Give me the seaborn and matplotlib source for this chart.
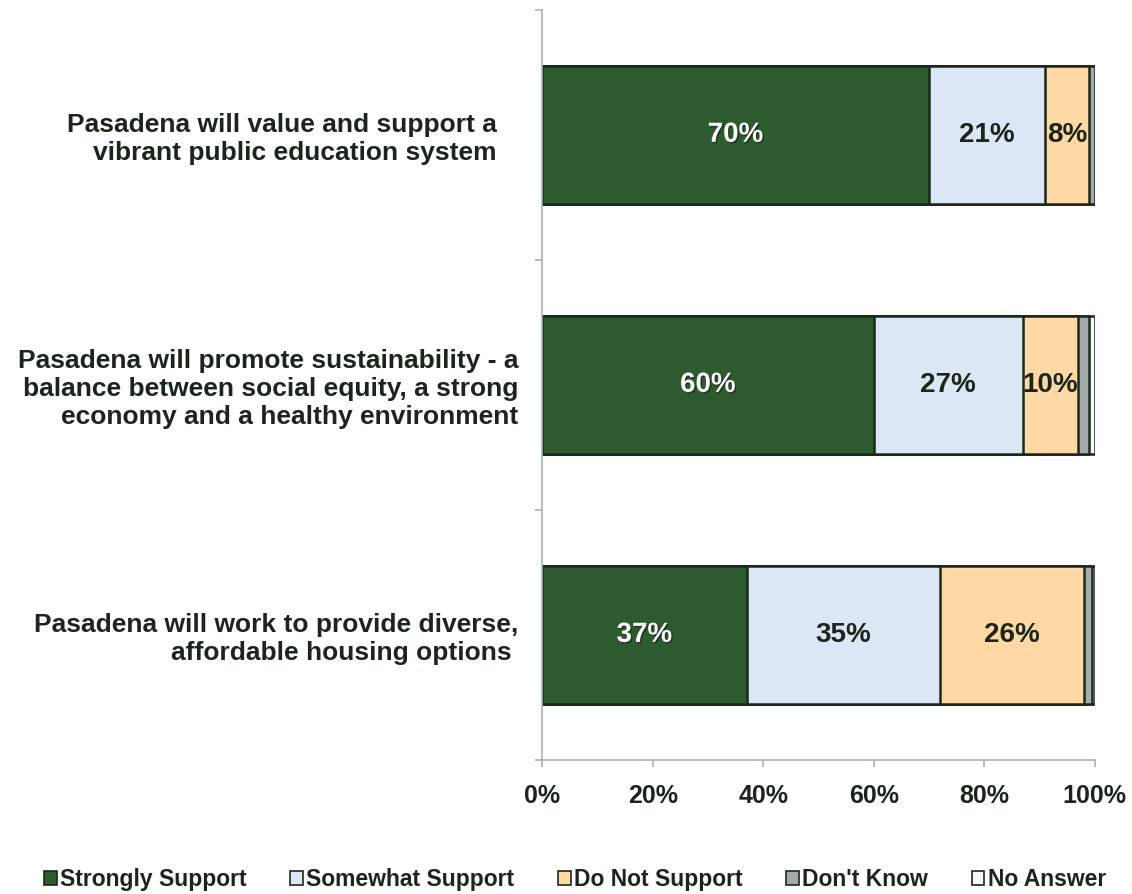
import numpy as np
import pandas as pd
import matplotlib
matplotlib.use("Agg")
import matplotlib.pyplot as plt
import seaborn as sns
from matplotlib.patches import Patch
import matplotlib.patheffects as pe

categories = [
    "Pasadena will value and support a   \nvibrant public education system   ",
    "Pasadena will promote sustainability - a\nbalance between social equity, a strong\neconomy and a healthy environment",
    "Pasadena will work to provide diverse,\naffordable housing options ",
]
series_names = ["Strongly Support", "Somewhat Support", "Do Not Support", "Don't Know", "No Answer"]
strongly = [70, 60, 37]
somewhat = [21, 27, 35]
do_not = [8, 10, 26]
dont_know = [1, 2, 1.5]
no_answer = [0.3, 1, 0.5]
labels_strongly = ["70%", "60%", "37%"]
labels_somewhat = ["21%", "27%", "35%"]
labels_do_not = ["8%", "10%", "26%"]
x_ticks = [0, 20, 40, 60, 80, 100]
x_tick_labels = ["0%", "20%", "40%", "60%", "80%", "100%"]

colors = ["#2e5a30", "#dde6f4", "#ffd8a6", "#a3abab", "#f4f7fc"]
edge = "#1a2a1a"
text_col = "#1b261b"

sns.set_theme(style="white")
plt.rcParams["font.family"] = ["Liberation Sans", "DejaVu Sans"]

series = [strongly, somewhat, do_not, dont_know, no_answer]
cum = np.cumsum(np.array(series, dtype=float), axis=0)

fig = plt.figure(figsize=(11.32, 8.94), dpi=100)
ax = fig.add_axes([0.479, 0.150, 0.488, 0.839])

for i in range(len(series) - 1, -1, -1):
    df = pd.DataFrame({"cat": categories, "val": cum[i]})
    sns.barplot(data=df, y="cat", x="val", orient="h", color=colors[i],
                saturation=1, width=0.55, edgecolor=edge, linewidth=1.8, ax=ax)

label_sets = [labels_strongly, labels_somewhat, labels_do_not]
for s, labs in enumerate(label_sets):
    for j, lab in enumerate(labs):
        left = cum[s - 1][j] if s > 0 else 0
        xc = left + series[s][j] / 2
        if s == 0:
            ax.text(xc, j, lab, ha="center", va="center", fontsize=20, fontweight="bold",
                    color="white",
                    path_effects=[pe.withSimplePatchShadow(offset=(1, -1), shadow_rgbFace="#102010", alpha=0.6)])
        else:
            ax.text(xc, j, lab, ha="center", va="center", fontsize=20, fontweight="bold",
                    color=text_col)

ax.set_xlim(0, 100)
ax.set_ylim(2.5, -0.5)
ax.set_xlabel("")
ax.set_ylabel("")
ax.set_xticks(x_ticks)
ax.set_xticklabels(x_tick_labels, fontsize=18, fontweight="bold", color=text_col)
ax.set_yticks(range(len(categories)))
ax.set_yticklabels(categories, fontsize=19, fontweight="bold", color=text_col,
                   multialignment="right", linespacing=1.2)
ax.tick_params(axis="y", length=0, pad=17)
ax.set_yticks([-0.5, 0.5, 1.5, 2.5], minor=True)
ax.tick_params(axis="y", which="minor", length=5, color="#a8b0c4", width=1.2, left=True)
ax.tick_params(axis="x", length=5, color="#a8b0c4", width=1.2, bottom=True, pad=12)

for sp in ["top", "right"]:
    ax.spines[sp].set_visible(False)
for sp in ["left", "bottom"]:
    ax.spines[sp].set_color("#a8b0c4")
    ax.spines[sp].set_linewidth(1.2)

handles = [Patch(facecolor=c, edgecolor=edge, linewidth=1.2) for c in colors]
fig.legend(handles, series_names, loc="center", bbox_to_anchor=(0.508, 0.016), ncol=5,
           frameon=False, handlelength=0.55, handleheight=0.6, handletextpad=0.15,
           columnspacing=1.9, prop={"size": 16.5, "weight": "bold"}, labelcolor=text_col)

fig.savefig("out.png", dpi=100, facecolor="white")
